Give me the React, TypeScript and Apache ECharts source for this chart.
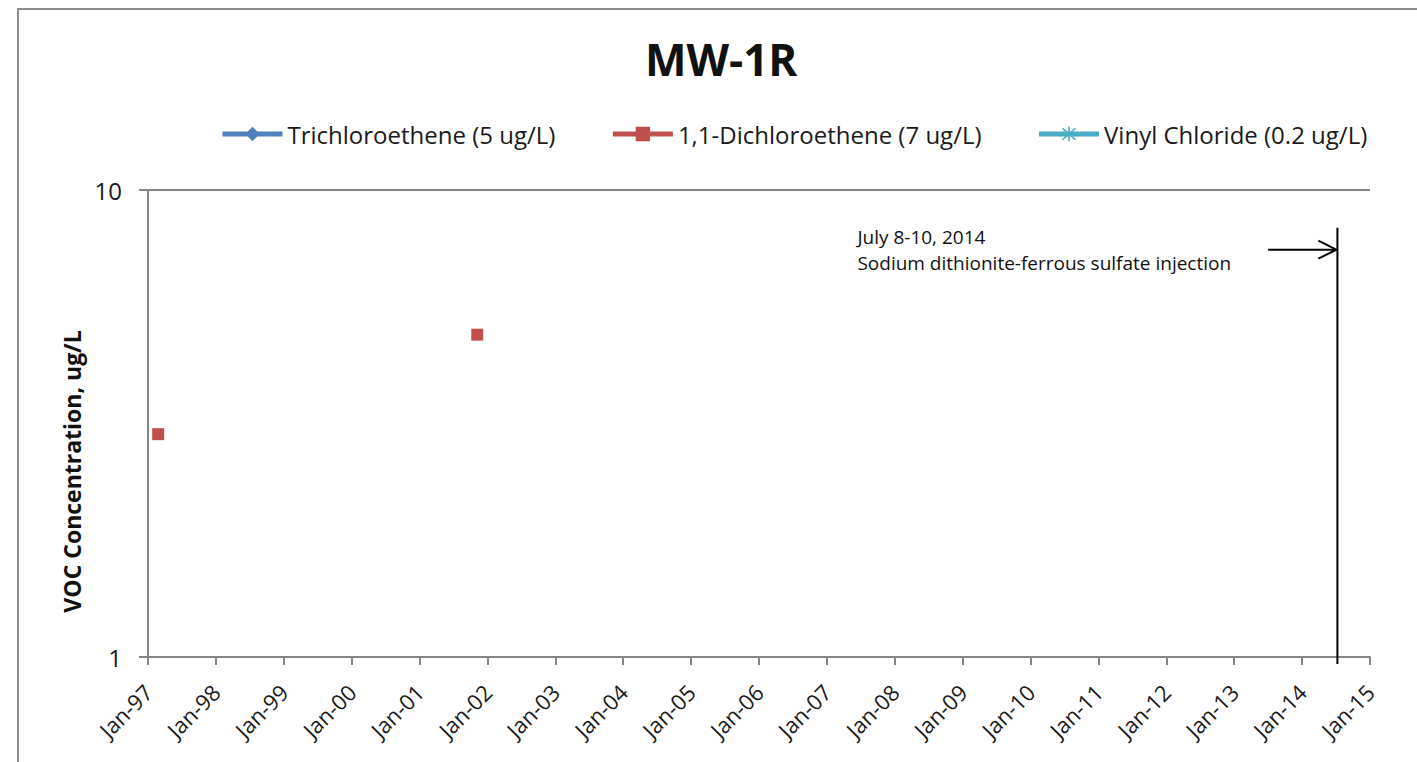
import React, { useEffect, useRef } from "react";
import * as echarts from "echarts";

const chartTitle = "MW-1R";
const seriesNames = [
  "Trichloroethene (5 ug/L)",
  "1,1-Dichloroethene (7 ug/L)",
  "Vinyl Chloride (0.2 ug/L)",
];
const seriesColors = ["#4F81BD", "#C0504D", "#4BACC6"];
// decimal-year x, concentration y (ug/L)
const tceData: [number, number][] = [];
const dceData: [number, number][] = [
  [1997.15, 3.0],
  [2001.85, 4.9],
];
const vcData: [number, number][] = [];
const xTickLabels = [
  "Jan-97", "Jan-98", "Jan-99", "Jan-00", "Jan-01", "Jan-02", "Jan-03",
  "Jan-04", "Jan-05", "Jan-06", "Jan-07", "Jan-08", "Jan-09", "Jan-10",
  "Jan-11", "Jan-12", "Jan-13", "Jan-14", "Jan-15",
];
const xStart = 1997;
const xEnd = 2015;
const eventX = 2014.52; // July 8-10, 2014
const eventLines = ["July 8-10, 2014", "Sodium dithionite-ferrous sulfate injection"];

const FONT = "'Open Sans', Lato, sans-serif";
const asteriskPath =
  "path://M9,0L11,0L11,20L9,20Z M1.4,2.8L2.8,1.4L18.6,17.2L17.2,18.6Z M17.2,1.4L18.6,2.8L2.8,18.6L1.4,17.2Z";

export default function App() {
  const ref = useRef<HTMLDivElement>(null);
  useEffect(() => {
    if (!ref.current) return;
    const chart = echarts.init(ref.current, null, { renderer: "svg" });
    const mkSeries = (name: string, data: [number, number][], color: string, symbol: string, size: number) => ({
      name,
      type: "line",
      data,
      symbol,
      symbolSize: size,
      showSymbol: true,
      color,
      itemStyle: { color },
      lineStyle: { color, width: 4, opacity: 0 },
      z: 5,
    });
    const option: any = {
      animation: false,
      backgroundColor: "#ffffff",
      textStyle: { fontFamily: FONT },
      title: {
        text: chartTitle,
        left: 645,
        top: 37,
        padding: 0,
        textStyle: { fontSize: 44, fontWeight: "bold", color: "#111", fontFamily: FONT },
      },
      legend: {
        left: 220,
        top: 122,
        padding: 0,
        itemWidth: 60,
        itemHeight: 18,
        itemGap: 55,
        lineStyle: { opacity: 1, width: 5 },
        textStyle: { fontSize: 24, color: "#1a1a1a", fontFamily: FONT },
        data: seriesNames,
      },
      grid: { left: 148, right: 47, top: 190, bottom: 105, containLabel: false },
      xAxis: {
        type: "value",
        min: xStart,
        max: xEnd,
        interval: 1,
        axisLine: { show: true, lineStyle: { color: "#868686", width: 2 } },
        axisTick: { show: true, length: 8, lineStyle: { color: "#868686", width: 2 } },
        splitLine: { show: false },
        axisLabel: {
          rotate: 45,
          margin: 31,
          fontSize: 22,
          color: "#1a1a1a",
          fontFamily: FONT,
          formatter: (v: number) => xTickLabels[Math.round(v - xStart)] ?? "",
        },
      },
      yAxis: {
        type: "log",
        logBase: 10,
        min: 1,
        max: 10,
        name: "VOC Concentration, ug/L",
        nameLocation: "middle",
        nameGap: 60,
        nameTextStyle: {
          fontSize: 23,
          fontWeight: "bold",
          color: "#111",
          fontFamily: FONT,
          padding: [0, 96, 0, 0],
        },
        axisLine: { show: true, lineStyle: { color: "#868686", width: 2 } },
        axisTick: { show: true, length: 9, lineStyle: { color: "#868686", width: 2 } },
        minorTick: { show: false },
        splitLine: { show: true, lineStyle: { color: "#868686", width: 2 } },
        axisLabel: { fontSize: 24, color: "#1a1a1a", margin: 26, fontFamily: FONT },
      },
      series: [
        mkSeries(seriesNames[0], tceData, seriesColors[0], "diamond", 14),
        mkSeries(seriesNames[1], dceData, seriesColors[1], "rect", 12),
        mkSeries(seriesNames[2], vcData, seriesColors[2], asteriskPath, 14),
      ],
    };
    chart.setOption(option);

    const [ex, yTop] = chart.convertToPixel({ gridIndex: 0 }, [eventX, 8.3]) as number[];
    const [, yArrow] = chart.convertToPixel({ gridIndex: 0 }, [eventX, 7.45]) as number[];
    const [, yAxisBottom] = chart.convertToPixel({ gridIndex: 0 }, [eventX, 1]) as number[];
    const [arrowStart] = chart.convertToPixel({ gridIndex: 0 }, [2013.5, 1]) as number[];
    const textX = ex - 480;

    chart.setOption({
      graphic: [
        {
          type: "rect",
          shape: { x: 18, y: 9, width: 1600, height: 900 },
          style: { fill: "none", stroke: "#8c8c8c", lineWidth: 2 },
          silent: true,
        },
        {
          type: "line",
          shape: { x1: ex, y1: yTop, x2: ex, y2: yAxisBottom + 7 },
          style: { stroke: "#000", lineWidth: 2 },
          z: 10,
        },
        {
          type: "line",
          shape: { x1: arrowStart, y1: yArrow, x2: ex - 1, y2: yArrow },
          style: { stroke: "#000", lineWidth: 2 },
          z: 10,
        },
        {
          type: "polyline",
          shape: { points: [[ex - 19, yArrow - 9], [ex - 1, yArrow], [ex - 19, yArrow + 9]] },
          style: { stroke: "#000", lineWidth: 2, fill: "none" },
          z: 10,
        },
        {
          type: "text",
          x: textX,
          y: yArrow - 13,
          style: {
            text: eventLines[0],
            fontSize: 19,
            fontFamily: FONT,
            fill: "#111",
            verticalAlign: "middle",
          },
          z: 10,
        },
        {
          type: "text",
          x: textX,
          y: yArrow + 13,
          style: {
            text: eventLines[1],
            fontSize: 19,
            fontFamily: FONT,
            fill: "#111",
            verticalAlign: "middle",
          },
          z: 10,
        },
      ],
    });
    return () => chart.dispose();
  }, []);
  return (
    <div
      ref={ref}
      style={{ position: "absolute", left: 0, top: 0, width: 1417, height: 762, background: "#fff" }}
    />
  );
}
